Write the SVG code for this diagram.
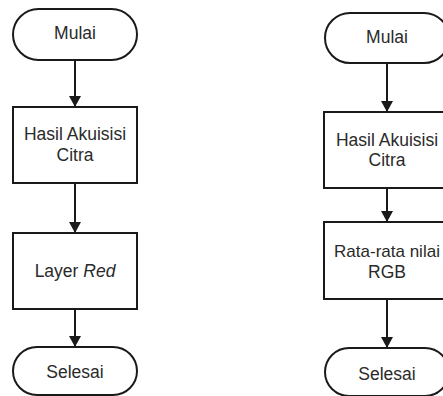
<svg xmlns="http://www.w3.org/2000/svg" width="443" height="396" viewBox="0 0 443 396">
<style>
.shape{fill:#ffffff;stroke:#1a1a1a;stroke-width:2}
.conn{stroke:#1a1a1a;stroke-width:2;fill:none;marker-end:url(#arr)}
.t{font-family:"Liberation Sans",Arial,sans-serif;font-size:17.5px;fill:#2a2a2a;text-anchor:middle}
</style>
<defs>
<marker id="arr" markerUnits="userSpaceOnUse" markerWidth="12" markerHeight="12" refX="11" refY="6" orient="auto">
<path d="M0,0 L11,6 L0,12 z" fill="#1a1a1a"/>
</marker>
</defs>
<rect width="443" height="396" fill="#ffffff"/>
<g id="connectors">
<line class="conn" x1="75" y1="60" x2="75" y2="107"/>
<line class="conn" x1="75" y1="183" x2="75" y2="233"/>
<line class="conn" x1="75" y1="309" x2="75" y2="347"/>
<line class="conn" x1="387" y1="63" x2="387" y2="112"/>
<line class="conn" x1="387" y1="188" x2="387" y2="222"/>
<line class="conn" x1="387" y1="299" x2="387" y2="348"/>
</g>
<g id="l-mulai">
<rect class="shape" x="13" y="9" width="124" height="51" rx="25.5" ry="25.5"/>
<text class="t" x="75" y="39">Mulai</text>
</g>
<g id="l-hasil">
<rect class="shape" x="13" y="107" width="124" height="76"/>
<text class="t" x="75" y="140">Hasil Akuisisi</text>
<text class="t" x="75" y="161">Citra</text>
</g>
<g id="l-layer">
<rect class="shape" x="13" y="233" width="124" height="76"/>
<text class="t" x="75" y="277">Layer <tspan font-style="italic">Red</tspan></text>
</g>
<g id="l-selesai">
<rect class="shape" x="13" y="347" width="124" height="48" rx="24" ry="24"/>
<text class="t" x="75" y="378">Selesai</text>
</g>
<g id="r-mulai">
<rect class="shape" x="325" y="13" width="124" height="50" rx="25" ry="25"/>
<text class="t" x="387" y="43">Mulai</text>
</g>
<g id="r-hasil">
<rect class="shape" x="324" y="112" width="126" height="76"/>
<text class="t" x="387" y="146">Hasil Akuisisi</text>
<text class="t" x="387" y="166">Citra</text>
</g>
<g id="r-rata">
<rect class="shape" x="324" y="222" width="126" height="77"/>
<text class="t" x="387" y="257" style="font-size:17px">Rata-rata nilai</text>
<text class="t" x="387" y="278">RGB</text>
</g>
<g id="r-selesai">
<rect class="shape" x="325" y="348" width="124" height="48" rx="24" ry="24"/>
<text class="t" x="387" y="380">Selesai</text>
</g>
</svg>
